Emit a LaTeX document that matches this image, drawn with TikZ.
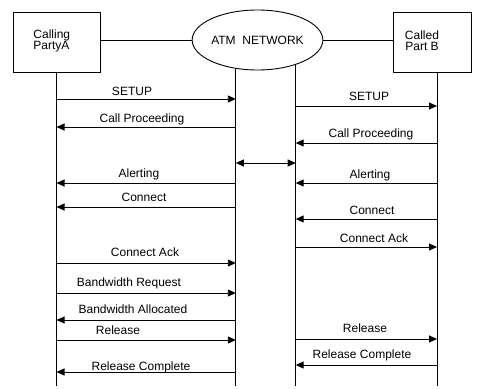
\documentclass[tikz,border=0pt]{standalone}
\usepackage{fontspec}
\setmainfont{Liberation Sans}
\usetikzlibrary{arrows.meta,shapes.geometric}
\begin{document}
\begin{tikzpicture}[x=1pt,y=-1pt,
  line width=0.9pt,
  every node/.style={font=\fontsize{12}{11}\selectfont},
  box/.style={draw,minimum width=87pt,minimum height=60pt,inner sep=0pt},
  net/.style={draw,ellipse,minimum width=125pt,minimum height=60pt,inner sep=0pt},
  life/.style={line width=0.9pt},
  msg/.style={line width=0.9pt},
  fw/.style={-{Triangle[length=8pt,width=7pt]}},
  bw/.style={{Triangle[length=8pt,width=7pt]}-},
  both/.style={{Triangle[length=8pt,width=7pt]}-{Triangle[length=8pt,width=7pt]}},
  lbl/.style={anchor=base,inner sep=0pt}]
\useasboundingbox (0,0) rectangle (484,388);
% parties
\node[box] (A) at (56.5,42) {};
\node[anchor=west,align=left,inner sep=0pt] (Atxt) at (33,40.5) {Calling\\PartyA};
\node[box,minimum width=78pt] (B) at (432,42) {};
\node[align=center,inner sep=0pt] (Btxt) at (422,40.5) {Called\\Part B};
\node[net] (N) at (257.5,40) {ATM\ \ NETWORK};
\draw (A.east |- N.west) -- (N.west);
\draw (N.east) -- (N.east -| B.west);
% lifelines
\coordinate (At) at (A.south);
\coordinate (Ab) at (56.5,386);
\coordinate (Lt) at (N.-127.5);
\coordinate (Lb) at (Lt |- Ab);
\coordinate (Rt) at (N.-33.8);
\coordinate (Rb) at (Rt |- Ab);
\coordinate (Bt) at (437,72);
\coordinate (Bb) at (437,386);
\draw[life] (At) -- (Ab);
\draw[life] (Lt) -- (Lb);
\draw[life] (Rt) -- (Rb);
\draw[life] (Bt) -- (Bb);
% left messages
\foreach \i/\yy/\d/\lx/\ly/\t in {
  1/99/fw/132/95/SETUP,
  2/127/bw/142/122.5/Call Proceeding,
  3/183/bw/139/177.5/Alerting,
  4/207/bw/144/201.5/Connect,
  5/263/fw/145/256.5/Connect Ack,
  6/293/fw/129/286.5/Bandwidth Request,
  7/320/bw/133/313.5/Bandwidth Allocated,
  8/340/fw/118/334.5/Release,
  9/372/bw/141/370/Release Complete}{
  \coordinate (la\i) at (At |- 0,\yy);
  \coordinate (ln\i) at (Lt |- 0,\yy);
  \draw[msg,\d] (la\i) -- (ln\i);
  \node[lbl] (lt\i) at (\lx,\ly) {\t};
}
% right messages
\foreach \i/\yy/\d/\lx/\ly/\t in {
  1/106/fw/369/100.5/SETUP,
  2/143/bw/371/137.5/Call Proceeding,
  3/183/bw/370/178.5/Alerting,
  4/219/bw/372/214.5/Connect,
  5/247/fw/374/242.5/Connect Ack,
  6/339/fw/365/332.5/Release,
  7/365/bw/362/358.5/Release Complete}{
  \coordinate (rn\i) at (Rt |- 0,\yy);
  \coordinate (rb\i) at (Bt |- 0,\yy);
  \draw[msg,\d] (rn\i) -- (rb\i);
  \node[lbl] (rt\i) at (\lx,\ly) {\t};
}
% network internal
\coordinate (m1) at (Lt |- 0,163);
\coordinate (m2) at (Rt |- 0,163);
\draw[msg,both] (m1) -- (m2);
\end{tikzpicture}
\end{document}
